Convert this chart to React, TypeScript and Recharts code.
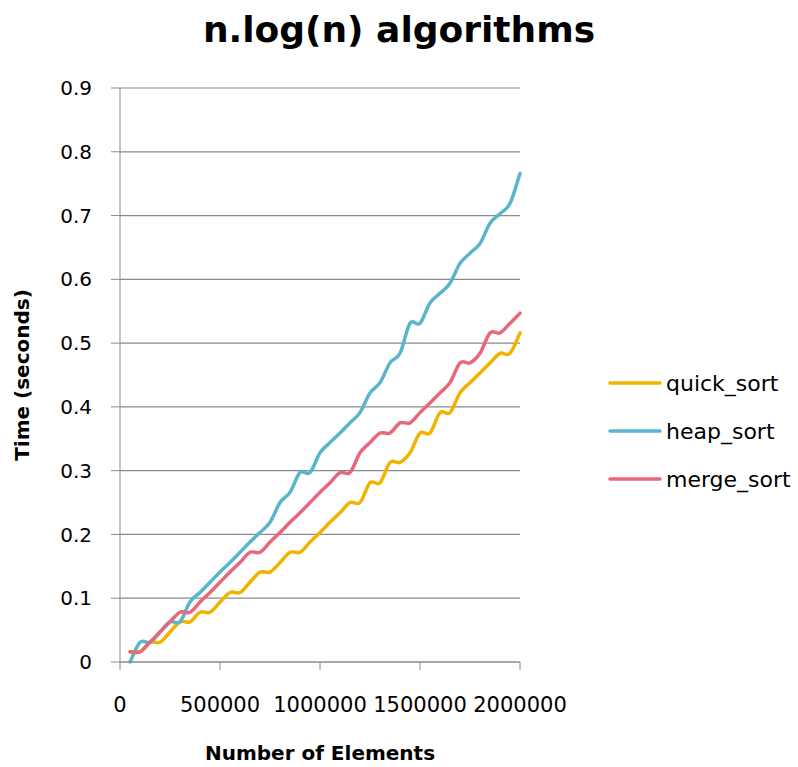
import React from 'react';
import { LineChart, Line, XAxis, YAxis, CartesianGrid, Legend, Label } from 'recharts';

// Number of elements sorted (x axis)
const elements = [
  50000, 100000, 150000, 200000, 250000, 300000, 350000, 400000, 450000, 500000,
  550000, 600000, 650000, 700000, 750000, 800000, 850000, 900000, 950000, 1000000,
  1050000, 1100000, 1150000, 1200000, 1250000, 1300000, 1350000, 1400000, 1450000, 1500000,
  1550000, 1600000, 1650000, 1700000, 1750000, 1800000, 1850000, 1900000, 1950000, 2000000,
];

// Time in seconds for each algorithm
const quickSort = [
  0.016, 0.016, 0.031, 0.031, 0.047, 0.063, 0.063, 0.078, 0.078, 0.094,
  0.109, 0.109, 0.125, 0.141, 0.141, 0.156, 0.172, 0.172, 0.188, 0.203,
  0.219, 0.234, 0.25, 0.25, 0.281, 0.281, 0.313, 0.313, 0.328, 0.359,
  0.359, 0.391, 0.391, 0.422, 0.438, 0.453, 0.469, 0.484, 0.484, 0.516,
];
const heapSort = [
  0, 0.031, 0.031, 0.047, 0.063, 0.063, 0.094, 0.109, 0.125, 0.141,
  0.156, 0.172, 0.188, 0.203, 0.219, 0.25, 0.266, 0.297, 0.297, 0.328,
  0.344, 0.359, 0.375, 0.391, 0.422, 0.438, 0.469, 0.484, 0.531, 0.531,
  0.563, 0.578, 0.594, 0.625, 0.641, 0.656, 0.688, 0.703, 0.719, 0.766,
];
const mergeSort = [
  0.016, 0.016, 0.031, 0.047, 0.063, 0.078, 0.078, 0.094, 0.109, 0.125,
  0.141, 0.156, 0.172, 0.172, 0.188, 0.203, 0.219, 0.234, 0.25, 0.266,
  0.281, 0.297, 0.297, 0.328, 0.344, 0.359, 0.359, 0.375, 0.375, 0.391,
  0.406, 0.422, 0.438, 0.469, 0.469, 0.484, 0.516, 0.516, 0.531, 0.547,
];

const xTicks = [0, 500000, 1000000, 1500000, 2000000];
const yTicks = [0, 0.1, 0.2, 0.3, 0.4, 0.5, 0.6, 0.7, 0.8, 0.9];

const series = [
  { key: 'quick_sort', color: '#F2B200' },
  { key: 'heap_sort', color: '#5AB4CC' },
  { key: 'merge_sort', color: '#E8677A' },
];

const data = elements.map((n, i) => ({
  n,
  quick_sort: quickSort[i],
  heap_sort: heapSort[i],
  merge_sort: mergeSort[i],
}));

const FONT = '"DejaVu Sans", sans-serif';
const AXIS_GRAY = '#8a8a8a';

// Excel-style smoothed line (cardinal spline, tension 0)
function excelSmooth(context: any) {
  let pts: number[][] = [];
  return {
    areaStart() {},
    areaEnd() {},
    lineStart() {
      pts = [];
    },
    lineEnd() {
      if (!pts.length) return;
      context.moveTo(pts[0][0], pts[0][1]);
      for (let i = 0; i < pts.length - 1; i++) {
        const p0 = pts[i - 1] || pts[i];
        const p1 = pts[i];
        const p2 = pts[i + 1];
        const p3 = pts[i + 2] || p2;
        context.bezierCurveTo(
          p1[0] + (p2[0] - p0[0]) / 6,
          p1[1] + (p2[1] - p0[1]) / 6,
          p2[0] - (p3[0] - p1[0]) / 6,
          p2[1] - (p3[1] - p1[1]) / 6,
          p2[0],
          p2[1]
        );
      }
    },
    point(x: number, y: number) {
      pts.push([+x, +y]);
    },
  };
}

function YTitle(props: any) {
  const vb = props.viewBox || { x: 0, y: 88, height: 574 };
  const cx = vb.x + 22;
  const cy = vb.y + vb.height / 2;
  return (
    <text
      x={cx}
      y={cy}
      transform={`rotate(-90, ${cx}, ${cy})`}
      textAnchor="middle"
      dominantBaseline="central"
      fontFamily={FONT}
      fontWeight="bold"
      fontSize={20}
      fill="#000"
    >
      Time (seconds)
    </text>
  );
}

// keep the legend in series order (recharts sorts the payload by name)
function LegendBox() {
  return (
    <div style={{ fontFamily: FONT, fontSize: 22, color: '#000' }}>
      {series.map((s) => (
        <div key={s.key} style={{ display: 'flex', alignItems: 'center', height: 48 }}>
          <svg width={54} height={6} style={{ marginRight: 4 }}>
            <line x1={2} y1={3} x2={52} y2={3} stroke={s.color} strokeWidth={3.5} strokeLinecap="round" />
          </svg>
          <span>{s.key}</span>
        </div>
      ))}
    </div>
  );
}

export default function App() {
  return (
    <div style={{ position: 'absolute', left: 0, top: 0, width: 798, height: 767, background: '#fff' }}>
      <div
        style={{
          position: 'absolute',
          top: 12,
          left: 0,
          width: 798,
          textAlign: 'center',
          fontFamily: FONT,
          fontWeight: 'bold',
          fontSize: 36,
          lineHeight: '36px',
          color: '#000',
        }}
      >
        n.log(n) algorithms
      </div>
      <LineChart
        width={798}
        height={767}
        data={data}
        margin={{ top: 88, right: 278, left: 0, bottom: 0 }}
        style={{ position: 'absolute', left: 0, top: 0 }}
      >
        <CartesianGrid vertical={false} stroke={AXIS_GRAY} strokeWidth={1.2} />
        <XAxis
          dataKey="n"
          type="number"
          domain={[0, 2000000]}
          ticks={xTicks}
          height={105}
          stroke={AXIS_GRAY}
          tickSize={8}
          tickMargin={27}
          tick={{ fill: '#000', fontFamily: FONT, fontSize: 21 }}
          interval={0}
        >
          <Label
            value="Number of Elements"
            position="insideBottom"
            offset={7}
            style={{ fontFamily: FONT, fontWeight: 'bold', fontSize: 20, fill: '#000' }}
          />
        </XAxis>
        <YAxis
          type="number"
          domain={[0, 0.9]}
          ticks={yTicks}
          width={120}
          stroke={AXIS_GRAY}
          tickSize={9}
          tickMargin={19}
          interval={0}
          tickFormatter={(v: number) => (v === 0 ? '0' : v.toFixed(1))}
          tick={{ fill: '#000', fontFamily: FONT, fontSize: 20 }}
        >
          <Label content={<YTitle />} />
        </YAxis>
        <Legend
          layout="vertical"
          align="center"
          verticalAlign="middle"
          content={<LegendBox />}
          wrapperStyle={{ left: 608, top: 359, width: 190 }}
        />
        {series.map((s) => (
          <Line
            key={s.key}
            dataKey={s.key}
            name={s.key}
            type={excelSmooth as any}
            stroke={s.color}
            strokeWidth={3.5}
            strokeLinecap="round"
            dot={false}
            activeDot={false}
            isAnimationActive={false}
          />
        ))}
      </LineChart>
    </div>
  );
}
